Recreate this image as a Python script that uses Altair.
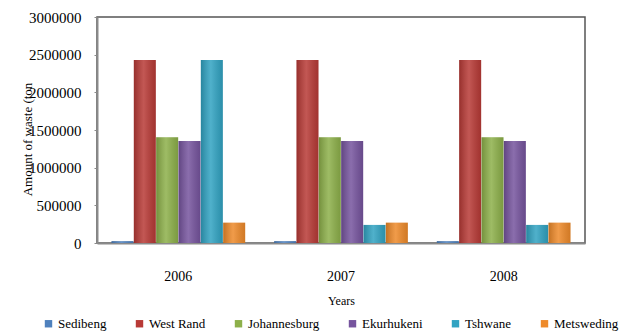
import altair as alt
import pandas as pd

years = ["2006", "2007", "2008"]
regions = ["Sedibeng", "West Rand", "Johannesburg", "Ekurhukeni", "Tshwane", "Metsweding"]
colors = ["#4F81BD", "#B83A36", "#8DB04A", "#76549E", "#31A3C2", "#EE8A2A"]

sedibeng = [25000, 25000, 25000]
west_rand = [2430000, 2430000, 2430000]
johannesburg = [1405000, 1405000, 1405000]
ekurhuleni = [1355000, 1355000, 1355000]
tshwane = [2430000, 240000, 240000]
metsweding = [270000, 270000, 270000]

series = [sedibeng, west_rand, johannesburg, ekurhuleni, tshwane, metsweding]
rows = []
for r, vals in zip(regions, series):
    for y, v in zip(years, vals):
        rows.append({"Year": y, "Region": r, "Amount": v})
df = pd.DataFrame(rows)

FONT = "Liberation Serif"

base = alt.Chart(df).encode(
    x=alt.X("Year:N", sort=years,
            scale=alt.Scale(paddingInner=0.176, paddingOuter=0.088),
            axis=alt.Axis(title="Years", labelAngle=0, labelPadding=26, ticks=False,
                          labelFontSize=14, titleFontSize=12, titlePadding=12,
                          titleFontWeight="normal", labelFont=FONT, titleFont=FONT,
                          domainColor="#8a8a8a", domainWidth=2, labelColor="#000",
                          titleColor="#000")),
    xOffset=alt.XOffset("Region:N", sort=regions),
    y=alt.Y("Amount:Q",
            scale=alt.Scale(domain=[0, 3000000], nice=False),
            axis=alt.Axis(title="Amount of waste (ton", values=[0, 500000, 1000000, 1500000, 2000000, 2500000, 3000000],
                          format="d", grid=False, tickSize=3, tickColor="#8a8a8a",
                          labelPadding=13, labelFontSize=15, labelFont=FONT,
                          titleFont=FONT, titleFontSize=13, titleFontWeight="normal",
                          titleAngle=270, titleX=-70, titleY=122, titleAlign="center",
                          titleBaseline="middle", domainColor="#8a8a8a", domainWidth=2,
                          labelColor="#000", titleColor="#000")),
)

bars = base.mark_bar(size=22).encode(
    color=alt.Color("Region:N", sort=regions,
                    scale=alt.Scale(domain=regions, range=colors),
                    legend=alt.Legend(title=None, orient="none", direction="horizontal",
                                      columns=6, legendX=-55, legendY=300,
                                      symbolType="square", symbolSize=55,
                                      symbolStrokeWidth=0, labelFont=FONT,
                                      labelFontSize=13, columnPadding=26,
                                      labelOffset=3, labelColor="#000")),
)

shade = base.mark_bar(size=22).encode(
    color=alt.value(alt.Gradient(
        gradient="linear", x1=0, x2=1, y1=0, y2=0,
        stops=[alt.GradientStop(color="rgba(0,0,0,0.18)", offset=0),
               alt.GradientStop(color="rgba(255,255,255,0.15)", offset=0.45),
               alt.GradientStop(color="rgba(0,0,0,0.12)", offset=1)])),
)

chart = (bars + shade).properties(
    width=488, height=226,
    autosize=alt.AutoSizeParams(type="none"),
    padding={"left": 97, "top": 17, "right": 34, "bottom": 92},
).configure(background="white", font=FONT).configure_view(stroke="#555555", strokeWidth=1.5)

chart.save("out.html", embed_options={"renderer": "svg", "actions": False})
